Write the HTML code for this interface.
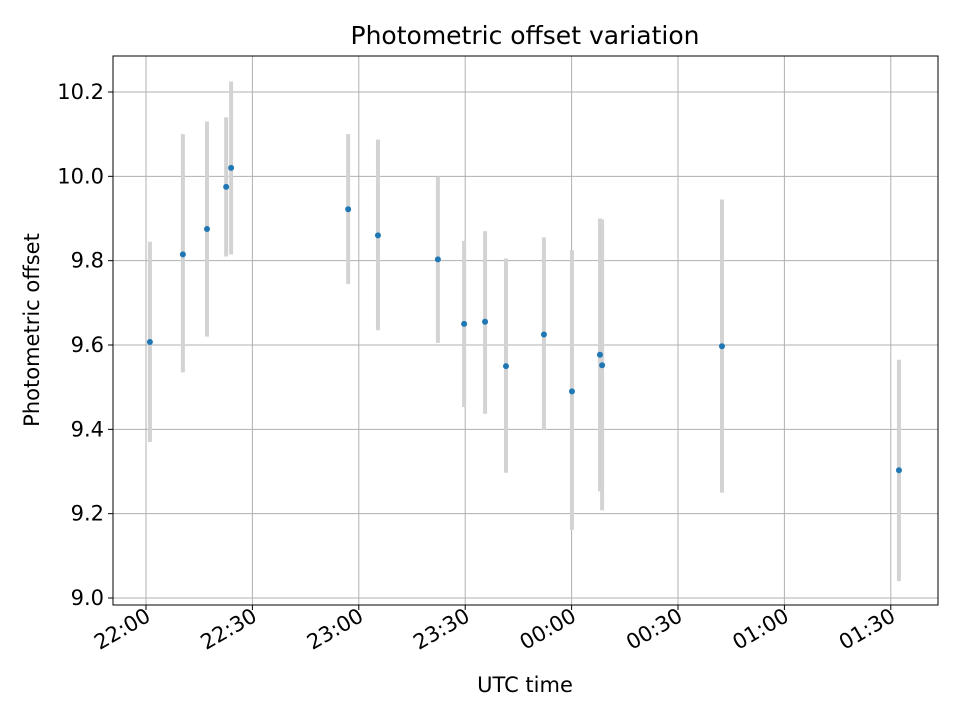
<!DOCTYPE html>
<html><head><meta charset="utf-8"><style>
body{margin:0;background:#fff}
svg text{font-family:"DejaVu Sans","Liberation Sans",sans-serif;fill:#000}
</style></head><body>
<svg id="chart" width="960" height="720" xmlns="http://www.w3.org/2000/svg">
<rect width="960" height="720" fill="#fff"/>
<text x="525" y="44" font-size="25" text-anchor="middle">Photometric offset variation</text>
<g id="grid"></g>
<g id="bars"></g>
<g id="pts"></g>
<g id="ticks"></g>
<rect x="113" y="56" width="825" height="549" fill="none" stroke="#000" stroke-width="1"/>
<text x="525" y="692" font-size="21" text-anchor="middle">UTC time</text>
<text x="39" y="330" font-size="21" text-anchor="middle" transform="rotate(-90 39 330)">Photometric offset</text>
</svg>
<script>
// minutes after 22:00
const times=[1.1,10.4,17.2,22.6,24.0,57.0,65.4,82.3,89.7,95.6,101.5,112.2,120.1,128.0,128.6,162.4,212.3];
const values=[9.607,9.815,9.875,9.975,10.02,9.922,9.86,9.803,9.65,9.655,9.55,9.625,9.49,9.577,9.552,9.597,9.303];
const lows=[9.37,9.535,9.62,9.81,9.815,9.745,9.635,9.605,9.453,9.437,9.297,9.398,9.162,9.253,9.208,9.25,9.04];
const highs=[9.845,10.1,10.13,10.14,10.225,10.1,10.087,10.0,9.847,9.87,9.805,9.855,9.825,9.9,9.898,9.945,9.565];
const xTickMinutes=[0,30,60,90,120,150,180,210];
const xTickLabels=["22:00","22:30","23:00","23:30","00:00","00:30","01:00","01:30"];
const yTicks=[9.0,9.2,9.4,9.6,9.8,10.0,10.2];
const NS="http://www.w3.org/2000/svg";
const X=m=>146+m*(106.4/30);
const Y=v=>598-(v-9.0)*(506/1.2);
function mk(tag,attrs,parent){const e=document.createElementNS(NS,tag);for(const k in attrs)e.setAttribute(k,attrs[k]);document.getElementById(parent).appendChild(e);return e;}
xTickMinutes.forEach((m,i)=>{
  const x=X(m);
  const g=mk('line',{x1:x,x2:x,y1:56,y2:605,stroke:'#b0b0b0','stroke-width':1},'grid');
  
  
  const t=mk('line',{x1:x,x2:x,y1:605,y2:610,stroke:'#000'},'ticks');
  
  
  const l=mk('text',{x:x+6,y:620,'font-size':21,'text-anchor':'end',transform:`rotate(-30 ${x+6} 620)`},'ticks');
  l.textContent=xTickLabels[i];
  
  
});
yTicks.forEach(v=>{
  const y=Y(v);
  const g=mk('line',{x1:113,x2:938,y1:y,y2:y,stroke:'#b0b0b0','stroke-width':1},'grid');
  
  
  const t=mk('line',{x1:108,x2:113,y1:y,y2:y,stroke:'#000'},'ticks');
  
  
  const l=mk('text',{x:104,y:y+7,'font-size':21,'text-anchor':'end'},'ticks');
  l.textContent=v.toFixed(1);
  
  
});
times.forEach((m,i)=>{
  const b=mk('line',{x1:X(m),x2:X(m),y1:Y(lows[i]),y2:Y(highs[i]),stroke:'#d3d3d3','stroke-width':4},'bars');
  
  
  const p=mk('circle',{cx:X(m),cy:Y(values[i]),r:3,fill:'#1f77b4'},'pts');
  
  
});
</script>
</body></html>
